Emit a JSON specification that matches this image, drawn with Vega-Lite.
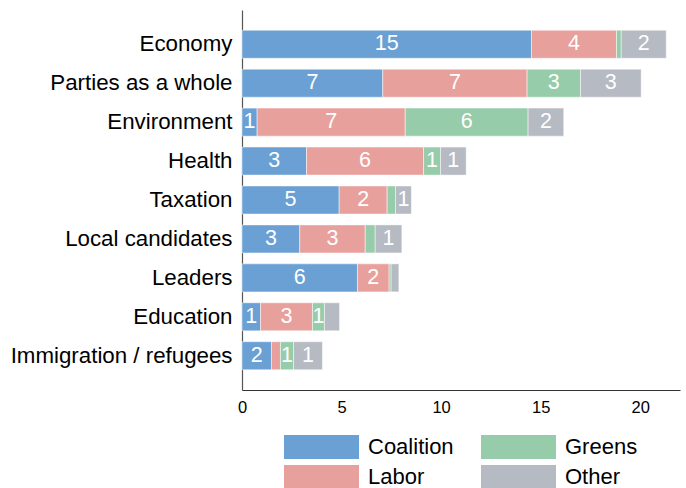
{
  "$schema": "https://vega.github.io/schema/vega-lite/v6.json",
  "width": 438,
  "height": 380,
  "autosize": {"type": "none"},
  "padding": {"left": 242, "top": 10, "right": 6, "bottom": 98},
  "config": {"font": "Liberation Sans", "view": {"stroke": null}},
  "data": {"values": [
    {"issue": "Economy", "party": "Coalition", "ord": 1, "value": 14.54, "label": "15"},
    {"issue": "Economy", "party": "Labor", "ord": 2, "value": 4.27, "label": "4"},
    {"issue": "Economy", "party": "Greens", "ord": 3, "value": 0.24, "label": ""},
    {"issue": "Economy", "party": "Other", "ord": 4, "value": 2.26, "label": "2"},
    {"issue": "Parties as a whole", "party": "Coalition", "ord": 1, "value": 7.07, "label": "7"},
    {"issue": "Parties as a whole", "party": "Labor", "ord": 2, "value": 7.25, "label": "7"},
    {"issue": "Parties as a whole", "party": "Greens", "ord": 3, "value": 2.68, "label": "3"},
    {"issue": "Parties as a whole", "party": "Other", "ord": 4, "value": 3.05, "label": "3"},
    {"issue": "Environment", "party": "Coalition", "ord": 1, "value": 0.76, "label": "1"},
    {"issue": "Environment", "party": "Labor", "ord": 2, "value": 7.44, "label": "7"},
    {"issue": "Environment", "party": "Greens", "ord": 3, "value": 6.17, "label": "6"},
    {"issue": "Environment", "party": "Other", "ord": 4, "value": 1.79, "label": "2"},
    {"issue": "Health", "party": "Coalition", "ord": 1, "value": 3.24, "label": "3"},
    {"issue": "Health", "party": "Labor", "ord": 2, "value": 5.88, "label": "6"},
    {"issue": "Health", "party": "Greens", "ord": 3, "value": 0.85, "label": "1"},
    {"issue": "Health", "party": "Other", "ord": 4, "value": 1.29, "label": "1"},
    {"issue": "Taxation", "party": "Coalition", "ord": 1, "value": 4.88, "label": "5"},
    {"issue": "Taxation", "party": "Labor", "ord": 2, "value": 2.41, "label": "2"},
    {"issue": "Taxation", "party": "Greens", "ord": 3, "value": 0.42, "label": ""},
    {"issue": "Taxation", "party": "Other", "ord": 4, "value": 0.8, "label": "1"},
    {"issue": "Local candidates", "party": "Coalition", "ord": 1, "value": 2.9, "label": "3"},
    {"issue": "Local candidates", "party": "Labor", "ord": 2, "value": 3.29, "label": "3"},
    {"issue": "Local candidates", "party": "Greens", "ord": 3, "value": 0.5, "label": ""},
    {"issue": "Local candidates", "party": "Other", "ord": 4, "value": 1.34, "label": "1"},
    {"issue": "Leaders", "party": "Coalition", "ord": 1, "value": 5.8, "label": "6"},
    {"issue": "Leaders", "party": "Labor", "ord": 2, "value": 1.59, "label": "2"},
    {"issue": "Leaders", "party": "Greens", "ord": 3, "value": 0.1, "label": ""},
    {"issue": "Leaders", "party": "Other", "ord": 4, "value": 0.39, "label": ""},
    {"issue": "Education", "party": "Coalition", "ord": 1, "value": 0.93, "label": "1"},
    {"issue": "Education", "party": "Labor", "ord": 2, "value": 2.61, "label": "3"},
    {"issue": "Education", "party": "Greens", "ord": 3, "value": 0.6, "label": "1"},
    {"issue": "Education", "party": "Other", "ord": 4, "value": 0.76, "label": ""},
    {"issue": "Immigration / refugees", "party": "Coalition", "ord": 1, "value": 1.48, "label": "2"},
    {"issue": "Immigration / refugees", "party": "Labor", "ord": 2, "value": 0.45, "label": ""},
    {"issue": "Immigration / refugees", "party": "Greens", "ord": 3, "value": 0.66, "label": "1"},
    {"issue": "Immigration / refugees", "party": "Other", "ord": 4, "value": 1.45, "label": "1"}
  ]},
  "encoding": {
    "y": {
      "field": "issue", "type": "nominal",
      "sort": ["Economy", "Parties as a whole", "Environment", "Health", "Taxation", "Local candidates", "Leaders", "Education", "Immigration / refugees"],
      "scale": {"paddingInner": 0.28, "paddingOuter": 0.52},
      "axis": {"title": null, "ticks": false, "labelFontSize": 22.3, "labelLimit": 0, "labelColor": "#000000", "labelPadding": 10, "domainColor": "#555555", "domainWidth": 1.2}
    }
  },
  "layer": [
    {
      "mark": {"type": "bar", "stroke": "#ffffff", "strokeWidth": 0.8, "strokeOpacity": 0.6},
      "encoding": {
        "x": {
          "field": "value", "type": "quantitative", "stack": "zero",
          "scale": {"domain": [0, 22], "nice": false},
          "axis": {"title": null, "values": [0, 5, 10, 15, 20], "ticks": false, "grid": false, "labelFontSize": 16.5, "labelColor": "#000000", "labelPadding": 9, "labelFlush": false, "domainColor": "#333333", "domainWidth": 1.2}
        },
        "color": {
          "field": "party", "type": "nominal",
          "scale": {"domain": ["Coalition", "Labor", "Greens", "Other"], "range": ["#6aa0d4", "#e8a09d", "#96ccaa", "#b6bac2"]},
          "legend": {"title": null, "orient": "none", "legendX": 42, "legendY": 425, "columns": 2, "symbolType": "M-1,-1H5.25V1H-1Z", "symbolSize": 576, "symbolStrokeWidth": 0, "symbolOpacity": 1, "labelFontSize": 22, "labelColor": "#000000", "labelOffset": 60, "rowPadding": 6, "columnPadding": 27}
        },
        "order": {"field": "ord", "type": "quantitative"}
      }
    },
    {
      "mark": {"type": "text", "color": "#ffffff", "fontSize": 21.5},
      "encoding": {
        "x": {"field": "value", "type": "quantitative", "stack": "zero", "bandPosition": 0.5},
        "detail": {"field": "party", "type": "nominal"},
        "text": {"field": "label", "type": "nominal"},
        "order": {"field": "ord", "type": "quantitative"}
      }
    }
  ]
}
